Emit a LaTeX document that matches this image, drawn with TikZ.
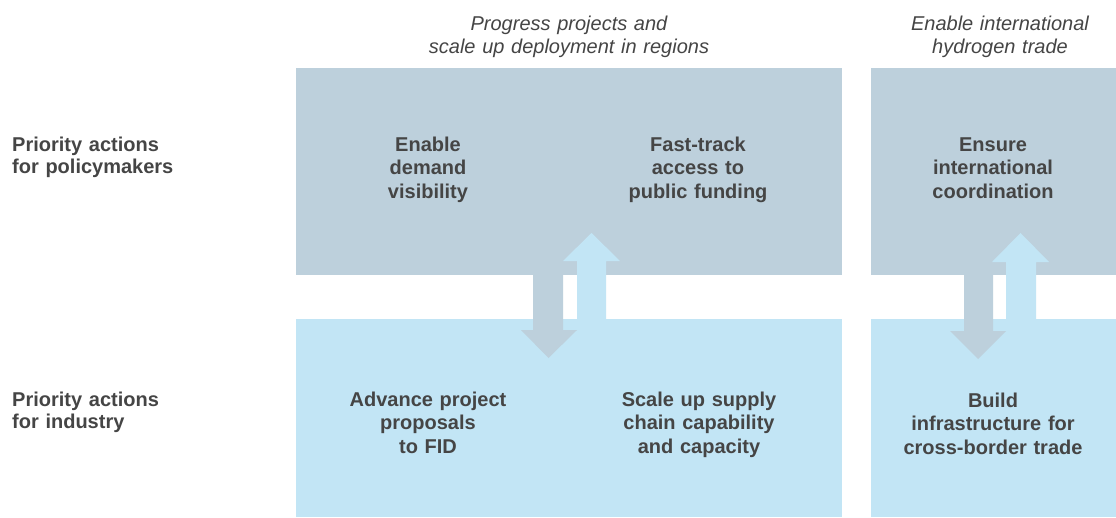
\documentclass[tikz,border=0pt]{standalone}
\usepackage{fontspec}
\setmainfont{Liberation Sans}
\definecolor{topbox}{HTML}{BDD0DC}
\definecolor{botbox}{HTML}{C2E5F5}
\definecolor{txt}{HTML}{454545}
\begin{document}
\begin{tikzpicture}[x=1pt,y=-1pt,
  panel/.style={draw=none,inner sep=0pt,anchor=north west},
  toppanel/.style={panel,fill=topbox},
  botpanel/.style={panel,fill=botbox},
  boxtext/.style={text=txt,inner sep=0pt,anchor=base,text width=300pt,align=center,
    font=\fontsize{20}{23.5}\selectfont\bfseries},
  headtext/.style={text=txt,inner sep=0pt,anchor=base,text width=340pt,align=center,
    font=\fontsize{20}{22.3}\selectfont\itshape},
  rowlabel/.style={text=txt,inner sep=0pt,anchor=base west,text width=260pt,align=left,
    font=\fontsize{20}{22.3}\selectfont\bfseries},
  downarr/.style={fill=topbox},
  uparr/.style={fill=botbox}]
\useasboundingbox (0,0) rectangle (1116,517);
\fill[white] (0,0) rectangle (1116,517);
% panels
\node[toppanel,minimum width=546pt,minimum height=207pt] (tl) at (296,68) {};
\node[toppanel,minimum width=245pt,minimum height=207pt] (tr) at (871,68) {};
\node[botpanel,minimum width=546pt,minimum height=198pt] (bl) at (296,319) {};
\node[botpanel,minimum width=245pt,minimum height=198pt] (br) at (871,319) {};
% arrows (left pair)
\fill[downarr] (533,270) -- (563,270) -- (563,330) -- (577,330) -- (548.5,358) -- (521,330) -- (533,330) -- cycle;
\fill[uparr] (577,324) -- (606,324) -- (606,261) -- (620,261) -- (591.5,233) -- (563,261) -- (577,261) -- cycle;
% arrows (right pair)
\fill[downarr] (964,270) -- (993,270) -- (993,331) -- (1006,331) -- (978,359) -- (950,331) -- (964,331) -- cycle;
\fill[uparr] (1006,324) -- (1036,324) -- (1036,262) -- (1049,262) -- (1020.5,233) -- (992,262) -- (1006,262) -- cycle;
% headers
\node[headtext] (h1) at (569,30.7) {Progress projects and\\scale up deployment in regions};
\node[headtext] (h2) at (1000,30.7) {Enable international\\hydrogen trade};
% row labels
\node[rowlabel] (r1) at (12,151) {Priority actions\\for policymakers};
\node[rowlabel] (r2) at (12,406) {Priority actions\\for industry};
% box texts
\node[boxtext] (t1) at (428,151) {Enable\\demand\\visibility};
\node[boxtext] (t2) at (698,151) {Fast-track\\access to\\public funding};
\node[boxtext] (t3) at (993,151) {Ensure\\international\\coordination};
\node[boxtext] (b1) at (428,406) {Advance project\\proposals\\to FID};
\node[boxtext] (b2) at (699,406) {Scale up supply\\chain capability\\and capacity};
\node[boxtext] (b3) at (993,407) {Build\\infrastructure for\\cross-border trade};
\end{tikzpicture}
\end{document}
